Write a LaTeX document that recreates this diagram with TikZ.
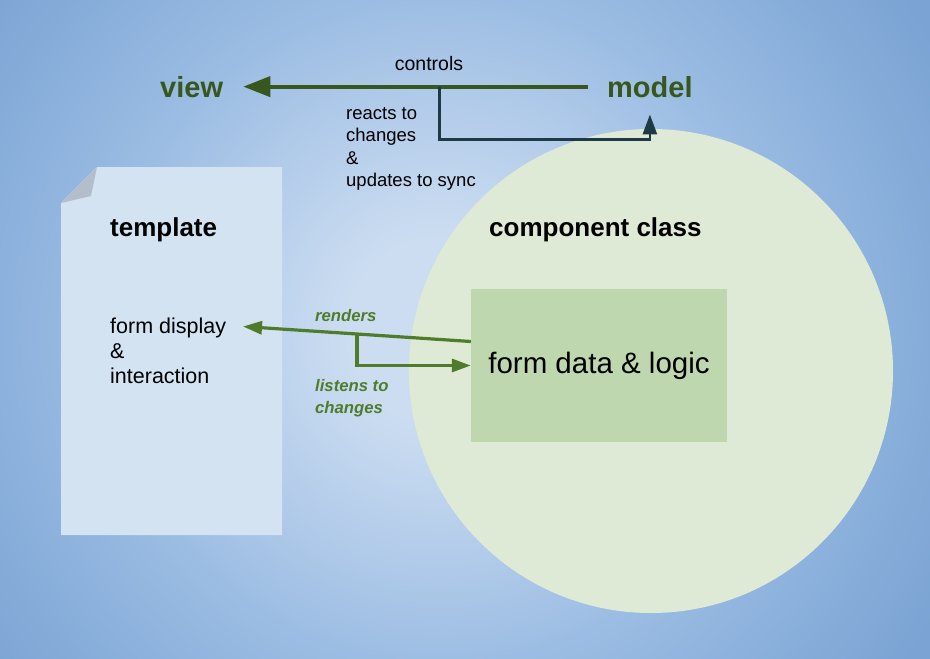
\documentclass[tikz,border=0pt]{standalone}
\usepackage{fontspec}
\setmainfont{Liberation Sans}
\usetikzlibrary{arrows.meta,calc}
\definecolor{bgc}{HTML}{CCDDF1}
\definecolor{bgb}{HTML}{B6CEEB}
\definecolor{bgt}{HTML}{9CBDE3}
\definecolor{bgm}{HTML}{89AFDB}
\definecolor{bge}{HTML}{7BA3D3}
\definecolor{pagefill}{HTML}{D3E3F2}
\definecolor{foldfill}{HTML}{B4BECB}
\definecolor{circfill}{HTML}{DFEAD6}
\definecolor{rectfill}{HTML}{BFD7AE}
\definecolor{darkgreen}{HTML}{38571F}
\definecolor{midgreen}{HTML}{4E7C2B}
\definecolor{slate}{HTML}{1D3A45}
\pgfdeclareradialshading{bgshade}{\pgfpoint{0bp}{0bp}}{color(0bp)=(bgc); color(4bp)=(bgc); color(9bp)=(bgb); color(14.5bp)=(bgt); color(20bp)=(bgm); color(25bp)=(bge); color(50bp)=(bge)}
\tikzset{
  bigword/.style={font=\fontsize{29}{34}\selectfont\bfseries, text=darkgreen, inner sep=0pt, anchor=base west},
  heading/.style={font=\fontsize{26}{30}\selectfont\bfseries, text=black, inner sep=0pt, anchor=base west},
  plain/.style={font=\fontsize{18.5}{22.5}\selectfont, text=black, inner sep=0pt, anchor=base west, align=left},
  bodytext/.style={font=\fontsize{21.5}{25}\selectfont, text=black, inner sep=0pt, anchor=base west, align=left},
  greenlabel/.style={font=\fontsize{16.7}{22}\selectfont\bfseries\itshape, text=midgreen, inner sep=0pt, anchor=base west, align=left},
  ctrlarrow/.style={draw=darkgreen, line width=4pt, -{Triangle[length=27pt,width=20pt]}},
  reactarrow/.style={draw=slate, line width=2.8pt, -{Triangle[length=20pt,width=14pt]}},
  greenarrow/.style={draw=midgreen, line width=3.2pt, -{Triangle[length=19pt,width=13pt]}},
}
\begin{document}
\begin{tikzpicture}[x=1pt,y=-1pt]
\useasboundingbox (0,0) rectangle (930,659);
\begin{scope}
\clip (0,0) rectangle (930,659);
\shade[shading=bgshade] (440-575,330-575) rectangle (440+575,330+575);
\end{scope}
% template page
\fill[pagefill] (97,167) -- (282,167) -- (282,535) -- (61,535) -- (61,203) -- cycle;
\fill[foldfill] (61,203) -- (97,167) -- (91,196) -- cycle;
% component class circle
\node[circle, fill=circfill, minimum size=484pt, inner sep=0pt] (cls) at (651,371) {};
\node[fill=rectfill, minimum width=256pt, minimum height=153pt, inner sep=0pt,
      font=\fontsize{29.5}{34}\selectfont] (logic) at (599,365.5) {form data \& logic};
% texts
\node[bigword] (view) at (160,97) {view};
\node[bigword] (model) at (607,97) {model};
\node[plain, anchor=base, font=\fontsize{19.5}{22.5}\selectfont] (controls) at (429,70) {controls};
\node[plain] (reacts) at (346,186.7) {reacts to\\changes\\\&\\updates to sync};
\node[heading] (tpltitle) at (110,236) {template};
\node[heading] (clstitle) at (489,236) {component class};
\node[bodytext] (fd) at (110,383) {form display\\\&\\interaction};
\node[greenlabel] (renders) at (315,321) {renders};
\node[greenlabel] (listens) at (315,413.5) {listens to\\changes};
% connectors
\coordinate (ctrlstart) at ($(model.west)+(-19,0)$);
\draw[ctrlarrow] (ctrlstart) -- ([xshift=20pt]view.east);
\coordinate (reactbranch) at ($(ctrlstart)!0.431!([xshift=20pt]view.east)$);
\draw[reactarrow] (reactbranch) -- ++(0,53) -| ([yshift=-17pt]model.south);
\coordinate (rendstart) at ([yshift=24pt]logic.west);
\coordinate (rendtip) at (243,326.5);
\draw[greenarrow] (rendstart) -- (rendtip);
\coordinate (listbranch) at ($(rendstart)!0.5!(rendtip)$);
\draw[greenarrow] (listbranch) |- (logic.west);
\end{tikzpicture}
\end{document}
